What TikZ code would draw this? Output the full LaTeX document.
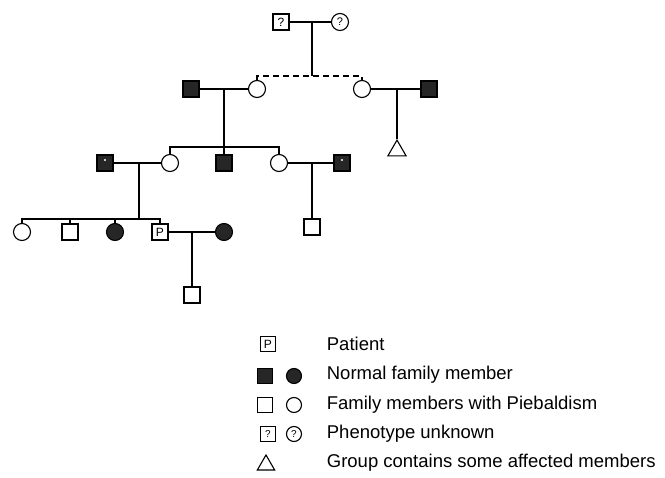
\documentclass[tikz,border=0pt]{standalone}
\usepackage{fontspec}
\setmainfont{Liberation Sans}
\usetikzlibrary{shapes.geometric}

\begin{document}
\begin{tikzpicture}[x=1pt, y=-1pt, line width=1.1pt,
        male/.style={rectangle, draw, minimum size=16pt, inner sep=0pt, font=\fontsize{12}{12}\selectfont},
        female/.style={circle, draw, minimum size=17pt, inner sep=0pt, font=\fontsize{11}{11}\selectfont},
        nmale/.style={male, fill=black!85},
        nfemale/.style={female, fill=black!85},
        dotmale/.style={nmale, path picture={\fill[white] ([yshift=3pt]path picture bounding box.center) circle (1.2pt);}},
        group/.style={regular polygon, regular polygon sides=3, draw, minimum size=21pt, inner sep=0pt},
        small/.style={minimum size=15pt},
        legtext/.style={anchor=west, font=\fontsize{18.5}{18.5}\selectfont}
    ]
        \useasboundingbox (0,0) rectangle (665,478);

        % Generation I
        \node[male] (gf) at (281,22) {?};
        \node[female] (gm) at (340,22) {?};
        \coordinate (m1) at (312,22);
        \coordinate (s1) at (312,76);

        % Generation II
        \node[nmale] (fa) at (191,89) {};
        \node[female] (mo) at (257,89) {};
        \node[female] (au) at (362,89) {};
        \node[nmale] (uh) at (429,89) {};
        \node[group, anchor=north] (grp) at (397,139) {};
        \coordinate (m2) at (224,89);
        \coordinate (s2) at (224,147);
        \coordinate (m3) at (397,89);

        % Generation III
        \node[dotmale] (u1) at (105,163) {};
        \node[female] (w1) at (170,163) {};
        \node[nmale] (b1) at (224,163) {};
        \node[female] (w2) at (279,163) {};
        \node[dotmale] (u2) at (342,163) {};
        \node[male] (c1) at (312,227) {};
        \coordinate (m4) at (139,163);
        \coordinate (s3) at (139,219);
        \coordinate (m5) at (312,163);

        % Generation IV
        \node[female] (k1) at (22,232) {};
        \node[male] (k2) at (70,232) {};
        \node[nfemale] (k3) at (115,232) {};
        \node[male] (pt) at (160,232) {P};
        \node[nfemale] (sp) at (224,232) {};
        \node[male] (g1) at (192,295) {};
        \coordinate (m6) at (192,232);

        % Lines
        \draw (gf) -- (gm);
        \draw (m1) -- (s1);
        \draw[dashed, dash pattern=on 6pt off 4pt] (mo.north) |- (s1) -| (au.north);
        \draw (fa) -- (mo);
        \draw (au) -- (uh);
        \draw (m2) -- (s2);
        \draw (m3) -- (grp.north);
        \draw (w1.north) |- (s2) -| (w2.north);
        \draw (s2) -- (b1);
        \draw (u1) -- (w1);
        \draw (w2) -- (u2);
        \draw (m4) -- (s3);
        \draw (m5) -- (c1);
        \draw (k1.north) |- (s3) -| (pt.north);
        \draw (k2) -- (k2 |- s3);
        \draw (k3) -- (k3 |- s3);
        \draw (pt) -- (sp);
        \draw (m6) -- (g1);

        % Legend
        \node[male, small] (lp) at (268,344) {P};
        \node[nmale, small] (ln1) at (265,376) {};
        \node[nfemale, small] (ln2) at (294,376) {};
        \node[male, small] (lo1) at (265,405) {};
        \node[female, small] (lo2) at (294,405) {};
        \node[male, small, font=\fontsize{10}{10}\selectfont] (lq1) at (268,434) {?};
        \node[female, small, font=\fontsize{10}{10}\selectfont] (lq2) at (294,434) {?};
        \node[group, minimum size=20pt] (lt) at (266,465) {};

        \node[legtext] (tp) at (323,344) {Patient};
        \node[legtext] (tn) at (323,375) {Normal family member};
        \node[legtext] (to) at (323,405) {Family members with Piebaldism};
        \node[legtext] (tq) at (323,434) {Phenotype unknown};
        \node[legtext] (tt) at (323,463) {Group contains some affected members};
    \end{tikzpicture}
\end{document}
